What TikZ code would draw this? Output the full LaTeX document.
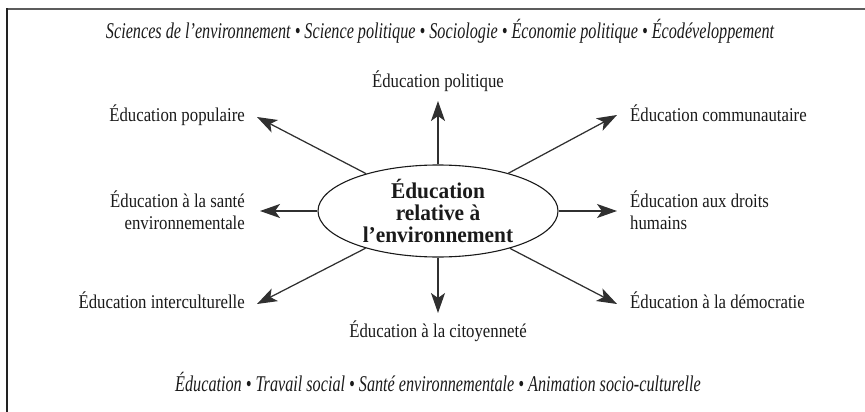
\documentclass[tikz,border=0pt]{standalone}
\usepackage{fontspec}
\setmainfont{Liberation Serif}
\newfontfamily\lblfont[FakeStretch=0.86]{Liberation Serif}
\newfontfamily\bandfont[FakeStretch=0.72]{Liberation Serif}
\newfontfamily\corefont[FakeStretch=0.95]{Liberation Serif}
\usetikzlibrary{arrows.meta,shapes.geometric}

\definecolor{ink}{HTML}{1A1A1A}
\definecolor{rayink}{HTML}{303030}
\definecolor{frametop}{HTML}{5C5C5C}
\definecolor{frameside}{HTML}{222222}

\begin{document}
\begin{tikzpicture}[x=1pt,y=-1pt,
  lbl/.style={font=\lblfont\fontsize{19.5}{21.5}\selectfont, text=ink, inner sep=0pt},
  band/.style={font=\bandfont\itshape\fontsize{22.5}{26}\selectfont, text=ink, inner sep=0pt},
  core/.style={ellipse, draw=ink, line width=1.1pt, minimum width=240pt, minimum height=92pt,
    inner sep=0pt, align=center, text=ink, font=\corefont\bfseries\fontsize{22.5}{22}\selectfont},
  ray/.style={draw=rayink, line width=1.25pt, -{Stealth[length=20pt,width=14pt,inset=5pt]}}]
\useasboundingbox (0,0) rectangle (865,412);

% frame edges
\draw[frametop, line width=1.7pt] (6,9) -- (866,9);
\draw[frameside, line width=2pt] (6.5,8.2) -- (6.5,413);

% disciplines above and fields of practice below
\node[band] (disc) at (440,31) {Sciences de l’environnement • Science politique • Sociologie • Économie politique • Écodéveloppement};
\node[band] (fields) at (438,382) {Éducation • Travail social • Santé environnementale • Animation socio-culturelle};

% central concept
\node[core] (ere) at (438,211) {Éducation\\relative à\\l’environnement};

% related educations
\node[lbl] (pol) at (438,81) {Éducation politique};
\node[lbl, anchor=east] (pop) at (245,115) {Éducation populaire};
\node[lbl, anchor=west] (com) at (630,113) {Éducation communautaire};
\node[lbl, anchor=east, align=right] (sante) at (245,210) {Éducation à la santé\\environnementale};
\node[lbl, anchor=west, align=left] (droits) at (630,210) {Éducation aux droits\\humains};
\node[lbl, anchor=east] (inter) at (245,300) {Éducation interculturelle};
\node[lbl, anchor=west] (demo) at (630,300) {Éducation à la démocratie};
\node[lbl] (cit) at (438,331) {Éducation à la citoyenneté};

% arrow tips
\coordinate (t-pol) at (438,101);
\coordinate (t-pop) at (257,117);
\coordinate (t-com) at (617,115);
\coordinate (t-san) at (260,211);
\coordinate (t-dro) at (617,211);
\coordinate (t-int) at (257,304);
\coordinate (t-dem) at (617,304);
\coordinate (t-cit) at (438,313);

\foreach \t in {pol,pop,com,san,dro,int,dem,cit}
  \draw[ray] (ere) -- (t-\t);
\end{tikzpicture}
\end{document}
